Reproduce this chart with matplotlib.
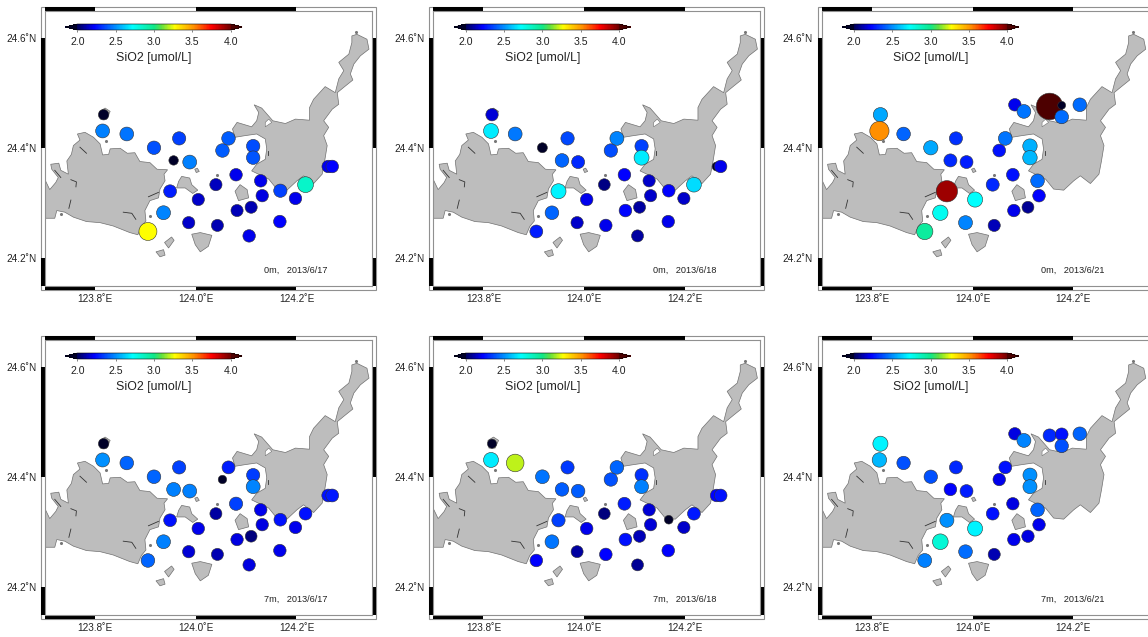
import matplotlib
matplotlib.use("Agg")
import matplotlib.pyplot as plt
from matplotlib.patches import Polygon, Rectangle
from matplotlib.cm import ScalarMappable
from matplotlib.colors import Normalize, LinearSegmentedColormap

plt.rcParams["font.family"] = ["Liberation Sans", "DejaVu Sans"]

W, H = 1148, 637

# land outlines, lon/lat
west_island = [(123.700, 24.273), (123.720, 24.273), (123.724, 24.287), (123.740, 24.284), (123.757, 24.275),
               (123.783, 24.267), (123.810, 24.265), (123.836, 24.259), (123.869, 24.247), (123.885, 24.243),
               (123.892, 24.258), (123.901, 24.268), (123.899, 24.287), (123.909, 24.305), (123.926, 24.310),
               (123.929, 24.326), (123.939, 24.341), (123.937, 24.353), (123.944, 24.361), (123.923, 24.362),
               (123.909, 24.374), (123.889, 24.376), (123.879, 24.392), (123.864, 24.391), (123.850, 24.400),
               (123.830, 24.399), (123.827, 24.389), (123.815, 24.388), (123.810, 24.408), (123.797, 24.420),
               (123.780, 24.429), (123.765, 24.426), (123.770, 24.415), (123.757, 24.405), (123.753, 24.389),
               (123.744, 24.377), (123.747, 24.353), (123.732, 24.360), (123.728, 24.373), (123.712, 24.371),
               (123.714, 24.362), (123.727, 24.347), (123.722, 24.338), (123.710, 24.325), (123.700, 24.344)]
east_island = [(124.310, 24.604), (124.320, 24.607), (124.340, 24.598), (124.344, 24.580), (124.327, 24.568),
               (124.314, 24.553), (124.307, 24.535), (124.312, 24.524), (124.297, 24.513), (124.281, 24.501),
               (124.284, 24.480), (124.271, 24.471), (124.254, 24.450), (124.264, 24.438), (124.254, 24.423),
               (124.261, 24.405), (124.256, 24.377), (124.251, 24.353), (124.234, 24.336), (124.214, 24.350),
               (124.201, 24.341), (124.181, 24.324), (124.161, 24.326), (124.145, 24.344), (124.111, 24.359),
               (124.121, 24.371), (124.138, 24.380), (124.141, 24.399), (124.138, 24.417), (124.121, 24.426),
               (124.098, 24.423), (124.078, 24.420), (124.073, 24.435), (124.082, 24.447), (124.111, 24.439),
               (124.121, 24.450), (124.125, 24.465), (124.116, 24.479), (124.131, 24.473), (124.153, 24.450),
               (124.178, 24.445), (124.198, 24.453), (124.226, 24.451), (124.226, 24.474), (124.234, 24.489),
               (124.257, 24.512), (124.277, 24.501), (124.284, 24.526), (124.294, 24.541), (124.284, 24.556),
               (124.304, 24.571), (124.310, 24.592)]
lagoon = [(124.138, 24.439), (124.151, 24.447), (124.145, 24.453), (124.138, 24.447)]
small_islands = [
    [(123.966, 24.340), (123.972, 24.349), (123.988, 24.346), (123.992, 24.334), (124.004, 24.324),
     (123.994, 24.318), (123.979, 24.328), (123.962, 24.328)],
    [(123.992, 24.244), (124.009, 24.247), (124.032, 24.242), (124.025, 24.222), (124.009, 24.212), (123.999, 24.225)],
    [(124.078, 24.322), (124.088, 24.334), (124.102, 24.325), (124.105, 24.310), (124.085, 24.305)],
    [(123.938, 24.229), (123.952, 24.239), (123.957, 24.233), (123.946, 24.219)],
    [(123.921, 24.212), (123.936, 24.216), (123.939, 24.206), (123.929, 24.203)],
    [(123.809, 24.467), (123.820, 24.473), (123.830, 24.467), (123.823, 24.453), (123.811, 24.453)],
    [(123.998, 24.362), (124.003, 24.364), (124.007, 24.358), (124.001, 24.356)],
]
islets = [(123.822, 24.414), (123.732, 24.281), (123.909, 24.277), (124.042, 24.352), (124.319, 24.612)]
coast_marks = [
    [(123.856, 24.284), (123.873, 24.282), (123.881, 24.271)],
    [(123.752, 24.343), (123.763, 24.339), (123.762, 24.330)],
    [(123.752, 24.306), (123.748, 24.291)],
    [(123.770, 24.402), (123.783, 24.391)],
    [(123.906, 24.312), (123.926, 24.320)],
    [(123.720, 24.360), (123.732, 24.347)],
    [(124.143, 24.395), (124.143, 24.387)],
]

# stations
st_lon = [123.817, 123.815, 123.863, 123.917, 123.967, 123.956, 123.988, 123.949, 124.005, 123.936,
          123.986, 124.043, 123.905, 124.040, 124.080, 124.053, 124.065, 124.114, 124.114, 124.129,
          124.132, 124.082, 124.110, 124.106, 124.168, 124.167, 124.198, 124.218, 124.263, 124.271,
          124.084, 124.102, 124.153, 124.177, 124.177, 124.213]
st_lat = [24.461, 24.4315, 24.426, 24.401, 24.418, 24.378, 24.375, 24.322, 24.307, 24.283,
          24.265, 24.260, 24.249, 24.334, 24.352, 24.396, 24.418, 24.404, 24.383, 24.341,
          24.314, 24.287, 24.293, 24.241, 24.323, 24.267, 24.309, 24.334, 24.367, 24.367,
          24.479, 24.467, 24.476, 24.478, 24.457, 24.479]

# SiO2 per station, None = not sampled
sio2_0m_0617 = [1.8, 2.47, 2.45, 2.38, 2.35, 1.6, 2.47, 2.28, 2.15, 2.48,
                2.15, 2.12, 3.27, 2.14, 2.2, 2.4, 2.4, 2.37, 2.39, 2.2,
                2.18, 2.13, 2.12, 2.2, 2.35, 2.22, 2.2, 2.85, 2.2, 2.22,
                None, None, None, None, None, None]
sio2_0m_0618 = [2.17, 2.68, 2.46, 1.7, 2.36, 2.42, 2.3, 2.7, 2.2, 2.42,
                2.15, 2.2, 2.28, 2.06, 2.22, 2.37, 2.48, 2.35, 2.68, 2.15,
                2.15, 2.23, 2.1, 2.1, 2.22, 2.2, 2.15, 2.65, 1.5, 2.2,
                None, None, None, None, None, None]
sio2_0m_0621 = [2.55, 3.52, 2.42, 2.55, 2.32, 2.3, 2.28, 3.92, 2.72, 2.75,
                2.48, 2.13, 2.95, 2.3, 2.25, 2.25, 2.45, 2.57, 2.58, 2.43,
                2.22, 2.2, 2.08, None, None, None, None, None, None, None,
                2.2, 2.45, 4.95, 1.3, 2.43, 2.43]
sio2_7m_0617 = [1.8, 2.5, 2.42, 2.42, 2.35, 2.47, 2.47, 2.25, 2.2, 2.47,
                2.17, 2.12, 2.42, 2.1, 2.35, 1.4, 2.28, 2.34, 2.48, 2.2,
                2.18, 2.18, 2.05, 2.18, 2.25, 2.2, 2.2, 2.25, 2.25, 2.27,
                None, None, None, None, None, None]
sio2_7m_0618 = [1.55, 2.68, 3.2, 2.45, 2.33, 2.4, 2.4, 2.35, 2.2, 2.45,
                2.1, 2.22, 2.22, 2.05, 2.28, 2.38, 2.42, 2.32, 2.47, 2.17,
                2.17, 2.25, 2.13, 2.08, 1.45, 2.22, 2.15, 2.27, 2.22, 2.25,
                None, None, None, None, None, None]
sio2_7m_0621 = [2.7, 2.58, 2.38, 2.38, 2.3, 2.22, 2.28, 2.5, 2.7, 2.82,
                2.43, 2.12, 2.47, 2.25, 2.18, 2.2, 2.25, 2.5, 2.5, 2.42,
                2.2, 2.2, 2.18, None, None, None, None, None, None, None,
                2.18, 2.48, 2.3, 2.25, 2.38, 2.42]

panels = [(0, 0, "0m,   2013/6/17", sio2_0m_0617), (1, 0, "0m,   2013/6/18", sio2_0m_0618),
          (2, 0, "0m,   2013/6/21", sio2_0m_0621), (0, 1, "7m,   2013/6/17", sio2_7m_0617),
          (1, 1, "7m,   2013/6/18", sio2_7m_0618), (2, 1, "7m,   2013/6/21", sio2_7m_0621)]

lon_ticks = [123.8, 124.0, 124.2]
lat_ticks = [24.2, 24.4, 24.6]
cbar_ticks = [2.0, 2.5, 3.0, 3.5, 4.0]

# jet-like scale, greener in the middle than plain jet
scale_vals = [2.0, 2.22, 2.72, 3.0, 3.1, 3.27, 3.52, 3.75, 4.0]
scale_cols = ["#00005a", "#0000ff", "#00ffff", "#10e888", "#60e040", "#ffff00", "#ff9000", "#ff0000", "#700000"]
cmap = LinearSegmentedColormap.from_list("sio2", [((v - 2.0) / 2.0, c) for v, c in zip(scale_vals, scale_cols)])
cmap = cmap.with_extremes(under="#000028", over="#4d0000")
norm = Normalize(2.0, 4.0)


def fig_box(x0, y0, x1, y1):
    # pixel box (y down) to figure fractions
    return [x0 / W, 1 - y1 / H, (x1 - x0) / W, (y1 - y0) / H]


fig = plt.figure(figsize=(W / 100, H / 100), dpi=100)

for col, row, stamp, vals in panels:
    dx = col * 388.4
    dy = row * 329
    ax = fig.add_axes(fig_box(44.7 + dx, 10.6 + dy, 372 + dx, 286 + dy))
    ax.set_xlim(123.7, 124.35)
    ax.set_ylim(24.15, 24.65)

    for spine in ax.spines.values():
        spine.set_color("#909090")
        spine.set_linewidth(0.8)

    # land
    for poly in [west_island, east_island] + small_islands:
        ax.add_patch(Polygon(poly, closed=True, fc="#bdbdbd", ec="#707070", lw=0.5, zorder=1))
    ax.add_patch(Polygon(lagoon, closed=True, fc="white", ec="#707070", lw=0.4, zorder=1.2))
    ax.scatter([p[0] for p in islets], [p[1] for p in islets], s=1.5, color="#777777", zorder=1)
    for mark in coast_marks:
        ax.plot([p[0] for p in mark], [p[1] for p in mark], color="#333333", lw=0.6, zorder=1.5)

    # stations, marker diameter grows with the value
    xs, ys, cs = [], [], []
    for lo, la, v in zip(st_lon, st_lat, vals):
        if v is not None:
            xs.append(lo)
            ys.append(la)
            cs.append(v)
    sizes = [((1.3 + 5.1 * v) * 0.72) ** 2 for v in cs]
    ax.scatter(xs, ys, s=sizes, c=cs, cmap=cmap, norm=norm, edgecolors="#333333", linewidths=0.4, zorder=3)

    # fancy frame
    outer = Rectangle((-4 / 327.3, -4 / 275.4), 1 + 8 / 327.3, 1 + 8 / 275.4, transform=ax.transAxes,
                      fill=False, ec="#909090", lw=0.8, clip_on=False)
    ax.add_patch(outer)
    band_y = 3.6 / 275.4
    band_x = 3.6 / 327.3
    for lo0, lo1 in [(123.7, 123.8), (124.0, 124.2)]:
        for y0 in [1.0, -band_y]:
            ax.add_patch(Rectangle((lo0, y0), lo1 - lo0, band_y, transform=ax.get_xaxis_transform(),
                                   fc="black", ec="none", clip_on=False))
    for la0, la1 in [(24.15, 24.2), (24.4, 24.6)]:
        for x0 in [-band_x, 1.0]:
            ax.add_patch(Rectangle((x0, la0), band_x, la1 - la0, transform=ax.get_yaxis_transform(),
                                   fc="black", ec="none", clip_on=False))

    ax.set_xticks(lon_ticks)
    ax.set_xticklabels(["%.1f\u02daE" % v for v in lon_ticks], fontsize=7.2, color="#222222")
    ax.set_yticks(lat_ticks)
    ax.set_yticklabels(["%.1f\u02daN" % v for v in lat_ticks], fontsize=7.2, color="#222222")
    ax.tick_params(axis="both", length=0)
    ax.tick_params(axis="x", pad=6)
    ax.tick_params(axis="y", pad=6)

    ax.text(0.671, 0.057, stamp, transform=ax.transAxes, fontsize=6.6, color="#222222", va="center", ha="left")

    # colorbar, box includes the end triangles
    cax = fig.add_axes(fig_box(65.95 + dx, 24 + dy, 242.05 + dx, 30 + dy))
    cb = fig.colorbar(ScalarMappable(norm=norm, cmap=cmap), cax=cax, orientation="horizontal",
                      extend="both", extendfrac=0.074, ticks=cbar_ticks)
    cb.outline.set_linewidth(0.4)
    cb.ax.tick_params(length=1.5, width=0.4, labelsize=7.6, pad=3.5, colors="#222222")
    cb.ax.set_xticklabels(["%.1f" % v for v in cbar_ticks])
    cb.set_label("SiO2 [umol/L]", fontsize=8.9, labelpad=3.5, color="#222222")

fig.savefig("out.png", dpi=100)
